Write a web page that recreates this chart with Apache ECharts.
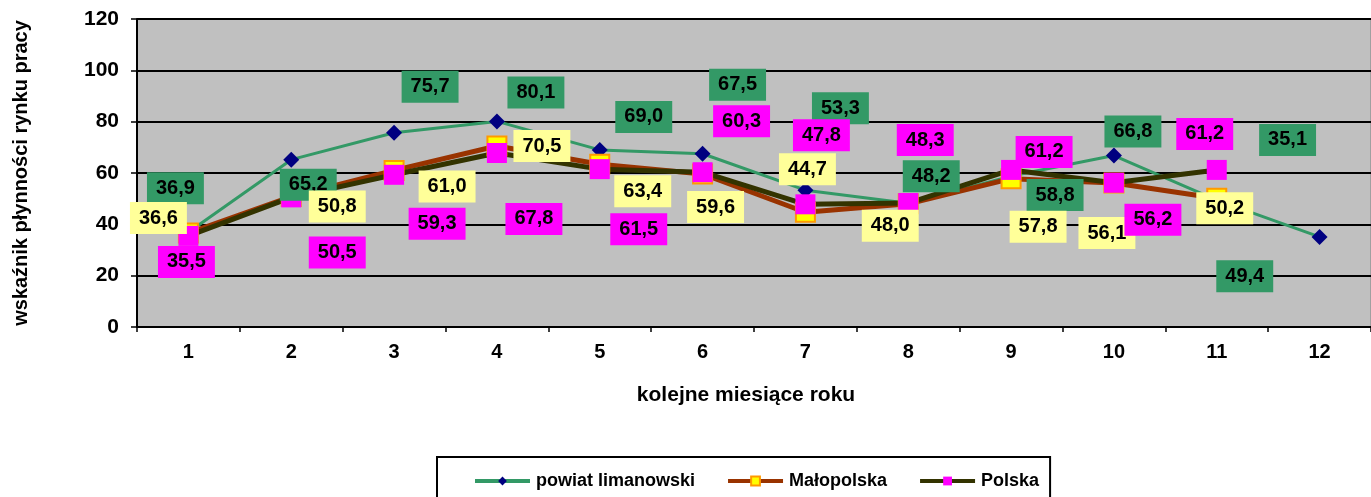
<!DOCTYPE html>
<html>
<head>
<meta charset="utf-8">
<script src="https://cdn.jsdelivr.net/npm/echarts@6/dist/echarts.min.js"></script>
<style>
  html, body { margin: 0; padding: 0; background: #fff; }
  #chart { width: 1371px; height: 497px; }
</style>
</head>
<body>
<div id="chart"></div>
<script>
// dane
var miesiace = ['1', '2', '3', '4', '5', '6', '7', '8', '9', '10', '11', '12'];
var powiat = [36.9, 65.2, 75.7, 80.1, 69.0, 67.5, 53.3, 48.2, 58.8, 66.8, 49.4, 35.1];
var malopolska = [36.6, 50.8, 61.0, 70.5, 63.4, 59.6, 44.7, 48.0, 57.8, 56.1, 50.2];
var polska = [35.5, 50.5, 59.3, 67.8, 61.5, 60.3, 47.8, 48.3, 61.2, 56.2, 61.2];

// przesuniecia etykiet (jak w oryginale, recznie rozlozone)
var offPowiat = [[-13, -44], [17, 25], [36, -46], [39, -29], [44, -33], [35, -69], [35, -82], [23, -27], [44, 19], [19, -24], [28, 76], [-32, -97]];
var offMalo = [[-30, -15], [46, 10], [53, 16], [45, 0], [43, 27], [13, 33], [2, -43], [-18, 22], [27, 48], [-7, 50], [8, 10]];
var offPolska = [[-2, 26], [46, 55], [43, 49], [37, 66], [39, 60], [39, -51], [16, -69], [17, -63], [33, -18], [39, 37], [-12, -36]];

function fmt(p) {
  return p.value.toFixed(1).replace('.', ',');
}

function withLabels(values, offsets, bg) {
  return values.map(function (v, i) {
    return {
      value: v,
      label: {
        show: true,
        position: 'inside',
        offset: offsets[i],
        formatter: fmt,
        backgroundColor: bg,
        color: '#000',
        fontFamily: 'Liberation Sans, Arial',
        fontWeight: 'bold',
        fontSize: 20,
        lineHeight: 22,
        padding: [5, 9]
      }
    };
  });
}

var chart = echarts.init(document.getElementById('chart'));

var option = {
  animation: false,
  textStyle: { fontFamily: 'Liberation Sans, Arial' },
  title: {
    text: 'kolejne miesiące roku',
    left: 741,
    top: 380,
    textAlign: 'center',
    textStyle: { fontSize: 21, fontWeight: 'bold', color: '#000' }
  },
  grid: {
    left: 137,
    right: -12,
    top: 19,
    bottom: 170,
    show: true,
    backgroundColor: '#c0c0c0',
    borderColor: '#808080',
    borderWidth: 1
  },
  legend: {
    left: 437,
    top: 457,
    itemWidth: 55,
    itemHeight: 11,
    itemGap: 31,
    borderColor: '#000',
    borderWidth: 2,
    padding: [15, 11, 40, 36],
    lineStyle: { width: 4 },
    textStyle: { fontSize: 18, fontWeight: 'bold', color: '#000', padding: [0, 0, 0, 1] },
    data: ['powiat limanowski', 'Małopolska', 'Polska']
  },
  xAxis: {
    type: 'category',
    data: miesiace,
    boundaryGap: true,
    axisLine: { lineStyle: { color: '#000', width: 2 } },
    axisTick: { show: true, length: 5, lineStyle: { color: '#000', width: 1.5 } },
    axisLabel: { color: '#000', fontSize: 20, fontWeight: 'bold', margin: 15 }
  },
  yAxis: {
    type: 'value',
    min: 0,
    max: 120,
    interval: 20,
    name: 'wskaźnik płynności rynku pracy',
    nameLocation: 'middle',
    nameGap: 106,
    nameRotate: 90,
    nameTextStyle: { fontSize: 20, fontWeight: 'bold', color: '#000' },
    axisLine: { show: true, lineStyle: { color: '#000', width: 2 } },
    axisTick: { show: true, length: 6, lineStyle: { color: '#000', width: 1.5 } },
    axisLabel: { color: '#000', fontSize: 21, fontWeight: 'bold', margin: 18 },
    splitLine: { lineStyle: { color: '#000', width: 2 } }
  },
  series: [
    {
      name: 'powiat limanowski',
      type: 'line',
      data: withLabels(powiat, offPowiat, '#339966'),
      symbol: 'diamond',
      symbolSize: 16,
      lineStyle: { color: '#339966', width: 3 },
      itemStyle: { color: '#000080', borderWidth: 0 }
    },
    {
      name: 'Małopolska',
      type: 'line',
      data: withLabels(malopolska, offMalo, '#ffff99'),
      symbol: 'rect',
      symbolSize: 19,
      lineStyle: { color: '#993300', width: 5 },
      itemStyle: { color: '#ffff00', borderColor: '#ff9900', borderWidth: 2 }
    },
    {
      name: 'Polska',
      type: 'line',
      data: withLabels(polska, offPolska, '#ff00ff'),
      symbol: 'rect',
      symbolSize: 20,
      lineStyle: { color: '#333300', width: 5 },
      itemStyle: { color: '#ff00ff', borderWidth: 0 }
    }
  ]
};

chart.setOption(option);
</script>
</body>
</html>
